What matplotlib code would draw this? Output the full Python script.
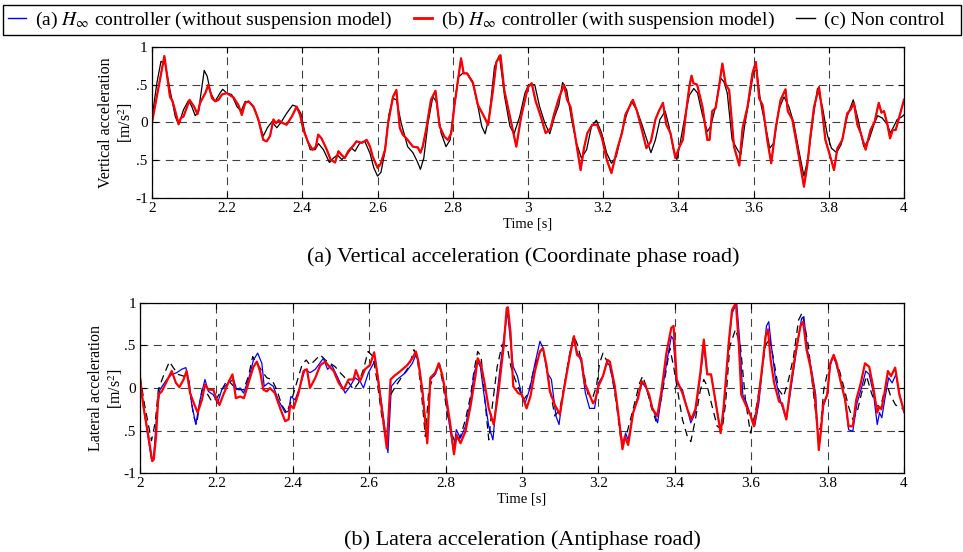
import matplotlib
matplotlib.use("Agg")
import matplotlib.pyplot as plt
from matplotlib.lines import Line2D
from matplotlib.patches import Rectangle

plt.rcParams['font.family'] = ['Liberation Serif', 'DejaVu Serif']
plt.rcParams['mathtext.fontset'] = 'stix'

# --- digitised data (time [s], acceleration [m/s^2]) ---
# (a) vertical acceleration, coordinate phase road
vert_red = [(2.000, 0.00), (2.033, 0.88), (2.048, 0.34), (2.055, 0.28), (2.071, -0.02), (2.077, 0.06),
            (2.084, 0.08), (2.100, 0.30), (2.112, 0.21), (2.121, 0.11), (2.128, 0.26), (2.142, 0.39),
            (2.150, 0.50), (2.160, 0.32), (2.168, 0.28), (2.177, 0.30), (2.186, 0.37), (2.199, 0.39),
            (2.217, 0.33), (2.230, 0.23), (2.239, 0.10), (2.248, 0.26), (2.257, 0.28), (2.270, 0.21),
            (2.283, 0.04), (2.296, -0.23), (2.305, -0.25), (2.314, -0.18), (2.323, 0.04), (2.330, -0.01),
            (2.337, 0.03), (2.345, 0.00), (2.358, -0.03), (2.372, 0.08), (2.385, 0.21), (2.394, 0.10),
            (2.403, -0.10), (2.416, -0.27), (2.427, -0.36), (2.436, -0.32), (2.442, -0.16), (2.451, -0.21),
            (2.465, -0.36), (2.475, -0.49), (2.487, -0.53), (2.496, -0.38), (2.504, -0.43), (2.513, -0.47),
            (2.522, -0.38), (2.535, -0.31), (2.544, -0.25), (2.558, -0.27), (2.571, -0.23), (2.580, -0.32),
            (2.587, -0.45), (2.600, -0.60), (2.608, -0.55), (2.620, -0.36), (2.628, -0.01), (2.641, 0.34),
            (2.650, 0.43), (2.659, -0.07), (2.667, -0.16), (2.680, -0.23), (2.694, -0.32), (2.707, -0.33),
            (2.714, -0.40), (2.720, -0.32), (2.729, -0.10), (2.742, 0.30), (2.754, 0.42), (2.765, -0.05),
            (2.778, -0.19), (2.787, -0.23), (2.796, -0.14), (2.804, 0.21), (2.815, 0.60), (2.822, 0.85),
            (2.829, 0.65), (2.838, 0.65), (2.854, 0.52), (2.867, 0.23), (2.881, 0.10), (2.894, -0.03),
            (2.907, 0.43), (2.916, 0.80), (2.927, 0.89), (2.937, 0.43), (2.952, 0.08), (2.969, -0.32),
            (2.982, 0.08), (3.000, 0.47), (3.010, 0.52), (3.020, 0.29), (3.034, 0.08), (3.047, -0.14),
            (3.060, -0.08), (3.069, 0.10), (3.082, 0.32), (3.096, 0.50), (3.104, 0.30), (3.113, 0.21),
            (3.127, -0.23), (3.140, -0.63), (3.149, -0.34), (3.158, -0.14), (3.171, -0.03), (3.184, -0.03),
            (3.197, -0.21), (3.210, -0.50), (3.222, -0.67), (3.237, -0.36), (3.250, -0.14), (3.259, 0.10),
            (3.268, 0.19), (3.279, 0.30), (3.290, 0.15), (3.303, -0.10), (3.315, -0.34), (3.327, -0.25),
            (3.339, 0.04), (3.348, 0.15), (3.359, 0.26), (3.368, -0.03), (3.379, -0.14), (3.392, -0.47),
            (3.403, -0.32), (3.412, -0.23), (3.420, 0.12), (3.429, 0.47), (3.435, 0.62), (3.440, 0.52),
            (3.450, 0.50), (3.464, 0.21), (3.477, -0.23), (3.483, -0.23), (3.490, 0.15), (3.499, 0.19),
            (3.508, 0.47), (3.517, 0.78), (3.526, 0.50), (3.535, 0.43), (3.548, -0.32), (3.562, -0.57),
            (3.571, -0.07), (3.584, 0.21), (3.597, 0.65), (3.606, 0.80), (3.615, 0.32), (3.624, 0.23),
            (3.637, -0.25), (3.647, -0.54), (3.659, -0.07), (3.672, 0.30), (3.685, 0.44), (3.691, 0.15),
            (3.703, 0.04), (3.716, -0.32), (3.734, -0.85), (3.743, -0.56), (3.751, -0.19), (3.761, 0.21),
            (3.774, 0.47), (3.782, 0.17), (3.791, -0.23), (3.805, -0.47), (3.814, -0.63), (3.823, -0.34),
            (3.836, -0.23), (3.849, 0.12), (3.858, 0.17), (3.867, 0.26), (3.876, -0.03), (3.885, -0.14),
            (3.898, -0.36), (3.911, -0.10), (3.922, 0.01), (3.933, 0.26), (3.940, 0.13), (3.947, 0.15),
            (3.956, -0.03), (3.963, -0.21), (3.970, -0.10), (3.978, -0.10), (3.989, 0.10), (4.000, 0.30)]
# the blue curve lies under the red one in panel (a)
vert_blue = vert_red
vert_black = [(2.000, 0.05), (2.013, 0.52), (2.024, 0.81), (2.035, 0.78), (2.048, 0.43), (2.062, 0.08),
              (2.071, -0.03), (2.084, 0.17), (2.097, 0.29), (2.106, 0.21), (2.115, 0.09), (2.124, 0.14),
              (2.128, 0.30), (2.139, 0.69), (2.147, 0.61), (2.156, 0.39), (2.168, 0.28), (2.181, 0.39),
              (2.188, 0.44), (2.199, 0.39), (2.212, 0.37), (2.226, 0.21), (2.237, 0.15), (2.248, 0.28),
              (2.261, 0.26), (2.274, 0.17), (2.288, -0.05), (2.296, -0.18), (2.307, -0.07), (2.319, 0.01),
              (2.332, -0.07), (2.343, 0.00), (2.358, 0.12), (2.374, 0.23), (2.385, 0.21), (2.396, 0.12),
              (2.407, -0.14), (2.421, -0.36), (2.434, -0.36), (2.443, -0.28), (2.456, -0.36), (2.472, -0.53),
              (2.483, -0.47), (2.493, -0.43), (2.505, -0.49), (2.518, -0.43), (2.531, -0.34), (2.540, -0.38),
              (2.553, -0.27), (2.566, -0.25), (2.580, -0.41), (2.590, -0.60), (2.600, -0.71), (2.609, -0.66),
              (2.619, -0.40), (2.630, 0.10), (2.641, 0.32), (2.650, 0.30), (2.663, -0.01), (2.680, -0.32),
              (2.694, -0.40), (2.705, -0.51), (2.714, -0.62), (2.723, -0.47), (2.734, -0.01), (2.747, 0.34),
              (2.756, 0.28), (2.769, -0.14), (2.782, -0.32), (2.793, -0.23), (2.804, 0.21), (2.815, 0.60),
              (2.826, 0.65), (2.839, 0.65), (2.853, 0.54), (2.867, 0.21), (2.877, -0.05), (2.886, -0.15),
              (2.897, 0.08), (2.911, 0.74), (2.924, 0.89), (2.938, 0.34), (2.952, -0.05), (2.963, -0.15),
              (2.978, 0.08), (2.992, 0.39), (3.002, 0.50), (3.018, 0.50), (3.031, 0.21), (3.045, -0.01),
              (3.058, -0.15), (3.071, 0.08), (3.082, 0.23), (3.092, 0.53), (3.103, 0.43), (3.116, 0.04),
              (3.129, -0.27), (3.142, -0.47), (3.156, -0.36), (3.169, -0.05), (3.182, 0.03), (3.196, -0.14),
              (3.209, -0.40), (3.222, -0.54), (3.235, -0.45), (3.249, -0.14), (3.262, 0.10), (3.275, 0.28),
              (3.289, 0.17), (3.302, -0.01), (3.315, -0.21), (3.327, -0.40), (3.339, -0.23), (3.351, 0.04),
              (3.365, 0.15), (3.375, -0.05), (3.387, -0.36), (3.396, -0.49), (3.403, -0.32), (3.416, 0.04),
              (3.429, 0.36), (3.441, 0.45), (3.451, 0.39), (3.464, 0.10), (3.477, -0.12), (3.486, -0.05),
              (3.499, 0.21), (3.512, 0.59), (3.521, 0.54), (3.530, 0.39), (3.543, -0.23), (3.557, -0.36),
              (3.566, -0.43), (3.576, -0.05), (3.588, 0.30), (3.600, 0.67), (3.608, 0.70), (3.619, 0.26),
              (3.632, -0.05), (3.643, -0.34), (3.654, -0.27), (3.667, 0.17), (3.681, 0.34), (3.694, 0.21),
              (3.707, -0.01), (3.720, -0.36), (3.734, -0.71), (3.745, -0.47), (3.759, 0.08), (3.770, 0.45),
              (3.783, 0.21), (3.796, -0.16), (3.807, -0.34), (3.821, -0.40), (3.833, -0.29), (3.849, 0.08),
              (3.865, 0.30), (3.878, 0.04), (3.893, -0.32), (3.907, -0.23), (3.920, -0.03), (3.930, 0.09),
              (3.942, 0.06), (3.956, -0.03), (3.964, -0.14), (3.973, -0.05), (3.982, 0.04), (3.993, 0.07),
              (4.000, 0.10)]

# (b) lateral acceleration, antiphase road
lat_red = [(2.000, 0.12), (2.009, -0.22), (2.022, -0.57), (2.032, -0.86), (2.036, -0.84), (2.042, -0.57),
           (2.048, -0.08), (2.057, -0.04), (2.068, 0.06), (2.083, 0.20), (2.094, 0.06), (2.103, 0.01),
           (2.114, 0.10), (2.122, 0.20), (2.131, -0.06), (2.141, -0.18), (2.151, -0.29), (2.162, -0.14),
           (2.170, 0.04), (2.179, -0.02), (2.192, -0.02), (2.201, -0.14), (2.208, -0.20), (2.218, -0.08),
           (2.231, 0.06), (2.242, 0.16), (2.251, -0.12), (2.262, -0.10), (2.272, -0.12), (2.284, 0.06),
           (2.297, 0.25), (2.306, 0.31), (2.314, 0.20), (2.323, -0.02), (2.332, -0.04), (2.340, 0.00),
           (2.353, -0.06), (2.367, -0.24), (2.380, -0.39), (2.389, -0.37), (2.393, -0.20), (2.402, -0.24),
           (2.415, -0.06), (2.428, 0.20), (2.437, 0.22), (2.445, 0.00), (2.459, 0.12), (2.472, 0.27),
           (2.485, 0.31), (2.496, 0.25), (2.507, 0.20), (2.520, 0.06), (2.533, -0.02), (2.546, 0.10),
           (2.559, 0.10), (2.565, 0.21), (2.576, 0.08), (2.589, 0.22), (2.602, 0.27), (2.613, 0.42),
           (2.622, 0.14), (2.633, -0.25), (2.646, -0.71), (2.656, 0.10), (2.665, 0.14), (2.682, 0.20),
           (2.700, 0.27), (2.713, 0.35), (2.722, 0.43), (2.728, 0.33), (2.739, -0.02), (2.752, -0.65),
           (2.760, 0.12), (2.773, 0.18), (2.782, 0.29), (2.791, 0.16), (2.800, -0.06), (2.813, -0.45),
           (2.822, -0.78), (2.829, -0.55), (2.839, -0.65), (2.852, -0.51), (2.865, -0.22), (2.878, 0.14),
           (2.884, 0.35), (2.893, 0.27), (2.902, 0.06), (2.913, -0.24), (2.926, -0.43), (2.939, -0.02),
           (2.952, 0.49), (2.960, 0.94), (2.963, 0.95), (2.970, 0.65), (2.977, 0.02), (2.990, -0.06),
           (3.000, -0.08), (3.012, -0.24), (3.022, -0.10), (3.034, 0.20), (3.047, 0.43), (3.055, 0.47),
           (3.064, 0.27), (3.073, -0.04), (3.086, -0.20), (3.099, -0.31), (3.112, 0.04), (3.125, 0.37),
           (3.136, 0.61), (3.144, 0.39), (3.155, 0.35), (3.164, 0.06), (3.175, -0.06), (3.186, -0.18),
           (3.192, -0.14), (3.200, 0.02), (3.212, 0.14), (3.224, 0.33), (3.230, 0.31), (3.243, 0.02),
           (3.254, -0.37), (3.263, -0.72), (3.269, -0.57), (3.278, -0.67), (3.291, -0.29), (3.304, -0.12),
           (3.313, 0.08), (3.321, 0.05), (3.333, -0.08), (3.341, -0.24), (3.354, -0.33), (3.365, -0.04),
           (3.378, 0.41), (3.391, 0.71), (3.397, 0.73), (3.405, 0.10), (3.420, -0.06), (3.433, -0.25),
           (3.443, -0.37), (3.454, -0.25), (3.467, 0.18), (3.476, 0.57), (3.485, 0.16), (3.495, 0.16),
           (3.506, -0.14), (3.520, -0.53), (3.528, -0.22), (3.542, 0.57), (3.550, 0.92), (3.560, 1.00),
           (3.568, 0.49), (3.574, -0.08), (3.586, -0.20), (3.599, -0.33), (3.607, -0.45), (3.618, -0.16),
           (3.629, 0.25), (3.638, 0.61), (3.644, 0.69), (3.651, 0.33), (3.660, 0.06), (3.673, -0.16),
           (3.681, -0.18), (3.692, -0.37), (3.703, 0.02), (3.716, 0.41), (3.729, 0.73), (3.736, 0.78),
           (3.745, 0.45), (3.755, 0.25), (3.766, -0.06), (3.773, -0.45), (3.777, -0.73), (3.783, -0.49),
           (3.788, -0.20), (3.799, -0.08), (3.807, 0.29), (3.816, 0.39), (3.824, 0.29), (3.833, 0.10),
           (3.846, -0.14), (3.855, -0.45), (3.866, -0.45), (3.875, -0.14), (3.887, 0.06), (3.898, 0.29),
           (3.909, 0.25), (3.920, 0.00), (3.930, -0.29), (3.935, -0.22), (3.941, -0.25), (3.949, -0.06),
           (3.958, 0.20), (3.966, 0.14), (3.977, 0.24), (3.988, -0.08), (4.000, -0.27)]
lat_blue = [(2.000, 0.10), (2.010, -0.25), (2.020, -0.55), (2.030, -0.84), (2.036, -0.80), (2.043, -0.35),
            (2.052, -0.02), (2.070, 0.10), (2.083, 0.16), (2.096, 0.18), (2.109, 0.22), (2.120, 0.24),
            (2.129, 0.06), (2.135, -0.18), (2.146, -0.43), (2.157, -0.14), (2.170, 0.10), (2.179, -0.04),
            (2.192, -0.08), (2.203, -0.18), (2.214, -0.02), (2.231, 0.06), (2.245, 0.10), (2.253, -0.02),
            (2.262, 0.00), (2.271, -0.06), (2.284, 0.10), (2.297, 0.33), (2.308, 0.41), (2.319, 0.29),
            (2.325, 0.02), (2.336, 0.06), (2.349, 0.02), (2.362, -0.14), (2.380, -0.29), (2.389, -0.27),
            (2.395, -0.10), (2.406, -0.14), (2.419, 0.02), (2.432, 0.22), (2.445, 0.18), (2.459, 0.22),
            (2.480, 0.35), (2.491, 0.22), (2.502, 0.27), (2.520, 0.10), (2.537, -0.06), (2.550, 0.02),
            (2.563, 0.12), (2.576, 0.08), (2.585, 0.00), (2.598, 0.18), (2.616, 0.33), (2.624, 0.10),
            (2.638, -0.37), (2.649, -0.76), (2.658, 0.02), (2.673, 0.10), (2.695, 0.18), (2.713, 0.29),
            (2.722, 0.39), (2.730, 0.29), (2.741, -0.10), (2.752, -0.65), (2.760, 0.10), (2.773, 0.16),
            (2.784, 0.29), (2.795, 0.06), (2.808, -0.37), (2.821, -0.75), (2.828, -0.49), (2.839, -0.59),
            (2.852, -0.45), (2.865, -0.16), (2.875, 0.18), (2.884, 0.31), (2.891, 0.25), (2.900, -0.06),
            (2.913, -0.45), (2.924, -0.61), (2.933, -0.14), (2.943, 0.25), (2.953, 0.61), (2.962, 0.90),
            (2.969, 0.59), (2.977, 0.25), (2.988, 0.14), (3.000, -0.10), (3.008, -0.18), (3.021, 0.00),
            (3.034, 0.29), (3.047, 0.55), (3.055, 0.47), (3.066, 0.18), (3.077, 0.10), (3.089, -0.33),
            (3.097, -0.43), (3.108, -0.04), (3.121, 0.29), (3.134, 0.59), (3.144, 0.43), (3.155, 0.31),
            (3.166, -0.06), (3.177, -0.24), (3.190, -0.24), (3.200, 0.06), (3.212, 0.14), (3.221, 0.29),
            (3.229, 0.27), (3.243, -0.02), (3.256, -0.45), (3.265, -0.69), (3.271, -0.53), (3.278, -0.61),
            (3.291, -0.29), (3.306, -0.06), (3.315, 0.06), (3.325, 0.00), (3.338, -0.18), (3.355, -0.41),
            (3.369, 0.02), (3.380, 0.33), (3.391, 0.61), (3.396, 0.57), (3.405, 0.06), (3.420, -0.02),
            (3.431, -0.22), (3.442, -0.41), (3.454, -0.29), (3.467, 0.14), (3.476, 0.49), (3.485, 0.16),
            (3.495, 0.16), (3.506, -0.14), (3.520, -0.51), (3.528, -0.29), (3.542, 0.55), (3.550, 0.88),
            (3.562, 1.00), (3.571, 0.49), (3.578, -0.08), (3.588, -0.18), (3.599, -0.33), (3.609, -0.45),
            (3.620, -0.18), (3.632, 0.37), (3.640, 0.73), (3.646, 0.78), (3.653, 0.49), (3.664, 0.10),
            (3.677, -0.16), (3.692, -0.37), (3.705, 0.02), (3.720, 0.49), (3.732, 0.82), (3.738, 0.84),
            (3.747, 0.45), (3.757, 0.24), (3.769, -0.08), (3.773, -0.45), (3.778, -0.69), (3.783, -0.45),
            (3.790, -0.20), (3.799, -0.08), (3.807, 0.27), (3.816, 0.39), (3.824, 0.25), (3.835, 0.08),
            (3.846, -0.14), (3.855, -0.49), (3.866, -0.51), (3.877, -0.18), (3.890, 0.02), (3.900, 0.20),
            (3.909, 0.16), (3.920, -0.06), (3.930, -0.43), (3.936, -0.29), (3.942, -0.35), (3.951, -0.10),
            (3.960, 0.12), (3.969, 0.06), (3.979, 0.16), (3.988, -0.06), (4.000, -0.29)]
lat_black = [(2.000, 0.14), (2.012, -0.20), (2.030, -0.62), (2.040, -0.40), (2.048, -0.02), (2.061, 0.14),
             (2.077, 0.31), (2.087, 0.24), (2.100, 0.16), (2.114, 0.14), (2.127, 0.10), (2.140, -0.33),
             (2.148, -0.43), (2.162, -0.02), (2.175, -0.06), (2.188, -0.16), (2.201, -0.12), (2.214, -0.02),
             (2.229, 0.10), (2.245, 0.02), (2.258, -0.02), (2.271, -0.02), (2.284, 0.14), (2.295, 0.37),
             (2.306, 0.29), (2.319, 0.20), (2.332, 0.12), (2.345, 0.10), (2.358, -0.02), (2.371, -0.20),
             (2.384, -0.29), (2.397, -0.14), (2.410, 0.06), (2.424, 0.27), (2.435, 0.33), (2.445, 0.27),
             (2.459, 0.33), (2.472, 0.39), (2.485, 0.33), (2.498, 0.29), (2.511, 0.25), (2.524, 0.18),
             (2.541, 0.10), (2.559, -0.02), (2.572, 0.06), (2.585, 0.22), (2.597, 0.43), (2.610, 0.37),
             (2.620, 0.10), (2.633, -0.33), (2.645, -0.61), (2.656, -0.08), (2.669, 0.02), (2.687, 0.14),
             (2.704, 0.25), (2.717, 0.45), (2.726, 0.35), (2.736, -0.02), (2.747, -0.57), (2.756, -0.02),
             (2.769, 0.14), (2.782, 0.29), (2.791, 0.10), (2.804, -0.29), (2.815, -0.53), (2.826, -0.65),
             (2.839, -0.57), (2.852, -0.37), (2.865, -0.10), (2.875, 0.22), (2.884, 0.43), (2.893, 0.37),
             (2.902, -0.10), (2.913, -0.61), (2.922, -0.22), (2.935, 0.25), (2.948, 0.51), (2.961, 0.49),
             (2.971, 0.25), (2.982, 0.10), (2.993, -0.02), (3.004, -0.14), (3.017, -0.06), (3.030, 0.20),
             (3.043, 0.39), (3.054, 0.47), (3.064, 0.25), (3.075, -0.06), (3.086, -0.33), (3.099, -0.25),
             (3.112, 0.06), (3.125, 0.41), (3.136, 0.61), (3.147, 0.49), (3.160, 0.22), (3.173, -0.08),
             (3.186, -0.10), (3.195, 0.02), (3.203, 0.29), (3.212, 0.41), (3.223, 0.31), (3.234, 0.18),
             (3.247, -0.18), (3.260, -0.65), (3.271, -0.59), (3.284, -0.37), (3.297, -0.14), (3.308, 0.06),
             (3.316, 0.14), (3.325, 0.02), (3.338, -0.22), (3.351, -0.39), (3.364, -0.14), (3.378, 0.22),
             (3.387, 0.47), (3.397, 0.25), (3.407, -0.02), (3.420, -0.37), (3.433, -0.57), (3.442, -0.63),
             (3.454, -0.37), (3.467, -0.02), (3.476, 0.10), (3.485, 0.02), (3.498, -0.22), (3.511, -0.45),
             (3.524, -0.49), (3.533, -0.18), (3.544, 0.49), (3.559, 0.69), (3.572, 0.49), (3.585, -0.14),
             (3.598, -0.53), (3.611, -0.29), (3.624, 0.06), (3.637, 0.49), (3.648, 0.59), (3.659, 0.33),
             (3.672, -0.02), (3.685, -0.10), (3.698, 0.10), (3.711, 0.37), (3.724, 0.80), (3.733, 0.88),
             (3.742, 0.69), (3.750, 0.49), (3.759, 0.10), (3.772, -0.41), (3.781, -0.49), (3.790, -0.02),
             (3.803, 0.25), (3.816, 0.35), (3.829, 0.24), (3.842, 0.02), (3.855, -0.22), (3.866, -0.37),
             (3.877, -0.29), (3.889, -0.06), (3.902, 0.14), (3.915, -0.06), (3.928, -0.22), (3.941, -0.18),
             (3.954, 0.06), (3.964, -0.08), (3.978, -0.20), (3.988, -0.22), (4.000, -0.25)]

x_ticks = [2, 2.2, 2.4, 2.6, 2.8, 3, 3.2, 3.4, 3.6, 3.8, 4]
x_ticklabels = ['2', '2.2', '2.4', '2.6', '2.8', '3', '3.2', '3.4', '3.6', '3.8', '4']
y_ticks = [1, 0.5, 0, -0.5, -1]
y_ticklabels = ['1', '.5', '0', '.5', '-1']   # as printed in the source

labels = [r'(a) $H_\infty$ controller (without suspension model)',
          r'(b) $H_\infty$ controller (with suspension model)',
          '(c) Non control']

RED = '#ff0000'


def xy(pairs):
    return [p[0] for p in pairs], [p[1] for p in pairs]


fig = plt.figure(figsize=(9.63, 5.52), dpi=100)
ax1 = fig.add_axes([0.1578, 0.6413, 0.7809, 0.2736])
ax2 = fig.add_axes([0.1454, 0.1431, 0.7933, 0.3080])

# panel (a)
ax1.plot(*xy(vert_black), color='black', lw=0.9)
ax1.plot(*xy(vert_blue), color='blue', lw=0.9)
ax1.plot(*xy(vert_red), color=RED, lw=1.6)
ax1.set_ylabel('Vertical acceleration\n[m/s$^2$]', fontsize=11.5)
ax1.yaxis.set_label_coords(-0.022, 0.5)

# panel (b)
ax2.plot(*xy(lat_black), color='black', lw=0.9, ls=(0, (6, 4)))
ax2.plot(*xy(lat_blue), color='blue', lw=0.9)
ax2.plot(*xy(lat_red), color=RED, lw=1.6)
ax2.set_ylabel('Lateral acceleration\n[m/s$^2$]', fontsize=11.5)
ax2.yaxis.set_label_coords(-0.0195, 0.5)

for ax in (ax1, ax2):
    ax.set_xlim(2, 4)
    ax.set_ylim(-1, 1)
    ax.set_xticks(x_ticks)
    ax.set_xticklabels(x_ticklabels)
    ax.set_yticks(y_ticks)
    ax.set_yticklabels(y_ticklabels)
    ax.tick_params(direction='in', length=4, labelsize=11, top=True, right=True, pad=3)
    ax.grid(True, color='black', ls=(0, (7, 5)), lw=0.8, alpha=0.75)
    ax.set_xlabel('Time [s]', fontsize=10.5, labelpad=2)
    for s in ax.spines.values():
        s.set_linewidth(0.9)

fig.text(0.543, 0.535, '(a) Vertical acceleration (Coordinate phase road)', ha='center', va='center', fontsize=16)
fig.text(0.543, 0.022, '(b) Latera acceleration (Antiphase road)', ha='center', va='center', fontsize=16)

# legend strip across the top
fig.patches.append(Rectangle((3 / 963, 1 - 35 / 552), 958 / 963, 30 / 552, transform=fig.transFigure,
                             facecolor='white', edgecolor='black', lw=1.0))
handles = [Line2D([], [], color='blue', lw=1.0),
           Line2D([], [], color=RED, lw=2.0),
           Line2D([], [], color='black', lw=1.0)]
fig.legend(handles, labels, loc='center left', ncol=3, bbox_to_anchor=(0.008, 1 - 20 / 552),
           fontsize=14, frameon=False, handlelength=0.95, handletextpad=0.45,
           columnspacing=1.1, borderpad=0, borderaxespad=0)

plt.savefig('out.png', dpi=100)
